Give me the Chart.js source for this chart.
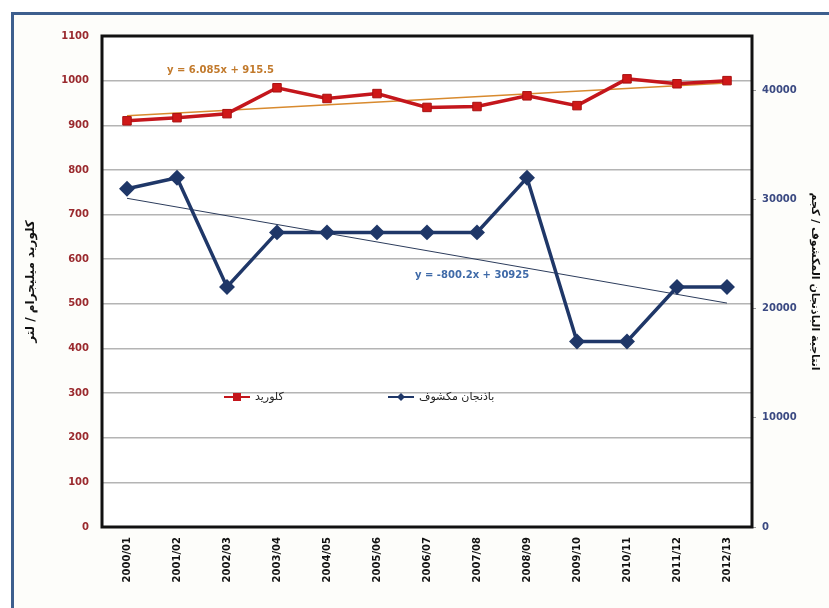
<!DOCTYPE html>
<html>
<head>
<meta charset="utf-8">
<script src="https://cdn.jsdelivr.net/npm/chart.js@4"></script>
<style>
  html, body { margin: 0; padding: 0; background: #ffffff; }
  #wrap { position: relative; width: 829px; height: 608px; overflow: hidden; }
  #frame {
    position: absolute; left: 11px; top: 12px; width: 830px; height: 620px;
    border-left: 3px solid #3d5f8e; border-top: 3px solid #3d5f8e;
    background: #fdfdfa; box-sizing: border-box;
  }
  canvas { position: absolute; left: 0; top: 0; }
</style>
</head>
<body>
<div id="wrap">
  <div id="frame"></div>
  <canvas id="chart" width="829" height="608"></canvas>
</div>
<script>
// seasons
const seasons = [
  "2000/01", "2001/02", "2002/03", "2003/04", "2004/05", "2005/06", "2006/07",
  "2007/08", "2008/09", "2009/10", "2010/11", "2011/12", "2012/13"
];

// chloride, mg/L (left axis)
const chloride = [910, 917, 926, 984, 960, 971, 940, 942, 966, 944, 1004, 993, 1000];

// open-field eggplant yield, kg (right axis)
const eggplant = [31000, 32000, 22000, 27000, 27000, 27000, 27000, 27000, 32000, 17000, 17000, 22000, 22000];

// trendline end values (first and last season)
const chlorideTrend = [921.6, null, null, null, null, null, null, null, null, null, null, null, 994.6];
const eggplantTrend = [30125, null, null, null, null, null, null, null, null, null, null, null, 20522];

const leftTicks = [0, 100, 200, 300, 400, 500, 600, 700, 800, 900, 1000, 1100];
const rightTicks = [0, 10000, 20000, 30000, 40000];

const chlorideLabel = "كلوريد";
const eggplantLabel = "باذنجان مكشوف";
const leftTitle = "كلوريد ميليجرام / لتر";
const rightTitle = "انتاجية الباذنجان المكشوف / كجم";
const chlorideEq = "y = 6.085x + 915.5";
const eggplantEq = "y = -800.2x + 30925";

const RED = "#c4161c";
const NAVY = "#1f3768";

// legend and trend equations drawn inside the plot, like the Excel original
const overlayPlugin = {
  id: "overlay",
  beforeDraw(chart) {
    const a = chart.chartArea;
    chart.ctx.fillStyle = "#ffffff";
    chart.ctx.fillRect(a.left, a.top, a.right - a.left, a.bottom - a.top);
  },
  afterDraw(chart) {
    const ctx = chart.ctx;
    const a = chart.chartArea;
    ctx.save();
    // plot border
    ctx.strokeStyle = "#111";
    ctx.lineWidth = 3;
    ctx.strokeRect(a.left, a.top, a.right - a.left, a.bottom - a.top);

    // equations
    ctx.font = "bold 10px 'DejaVu Sans', sans-serif";
    ctx.textBaseline = "middle";
    ctx.fillStyle = "#c27a2c";
    ctx.fillText(chlorideEq, 167, 70);
    ctx.fillStyle = "#3f6aa8";
    ctx.fillText(eggplantEq, 415, 275);

    // legend
    ctx.font = "11px 'DejaVu Sans', sans-serif";
    ctx.lineWidth = 2;
    // chloride entry
    ctx.strokeStyle = RED;
    ctx.beginPath(); ctx.moveTo(224, 397); ctx.lineTo(250, 397); ctx.stroke();
    ctx.fillStyle = RED;
    ctx.fillRect(233, 393, 8, 8);
    ctx.fillStyle = "#222";
    ctx.textAlign = "left";
    ctx.fillText(chlorideLabel, 255, 397);
    // eggplant entry
    ctx.strokeStyle = NAVY;
    ctx.beginPath(); ctx.moveTo(388, 397); ctx.lineTo(414, 397); ctx.stroke();
    ctx.fillStyle = NAVY;
    ctx.beginPath();
    ctx.moveTo(401, 393); ctx.lineTo(405, 397); ctx.lineTo(401, 401); ctx.lineTo(397, 397);
    ctx.closePath(); ctx.fill();
    ctx.fillStyle = "#222";
    ctx.fillText(eggplantLabel, 419, 397);
    ctx.restore();
  }
};

new Chart(document.getElementById("chart"), {
  type: "line",
  data: {
    labels: seasons,
    datasets: [
      {
        label: chlorideLabel,
        data: chloride,
        yAxisID: "y",
        borderColor: RED,
        backgroundColor: "#d01818",
        borderWidth: 3.5,
        pointStyle: "rect",
        pointRadius: 6,
        pointBorderColor: "#a81010",
        pointBorderWidth: 1,
        order: 1
      },
      {
        label: eggplantLabel,
        data: eggplant,
        yAxisID: "y1",
        borderColor: NAVY,
        backgroundColor: NAVY,
        borderWidth: 3.5,
        pointStyle: "rectRot",
        pointRadius: 5.5,
        pointBorderColor: NAVY,
        order: 2
      },
      {
        label: "trend1",
        data: chlorideTrend,
        yAxisID: "y",
        borderColor: "#d88a2e",
        borderWidth: 1.5,
        pointRadius: 0,
        spanGaps: true,
        order: 3
      },
      {
        label: "trend2",
        data: eggplantTrend,
        yAxisID: "y1",
        borderColor: "#2c3c5c",
        borderWidth: 1,
        pointRadius: 0,
        spanGaps: true,
        order: 4
      }
    ]
  },
  options: {
    responsive: false,
    animation: false,
    layout: { padding: { left: 24, right: 8, top: 36, bottom: 0 } },
    plugins: {
      legend: { display: false },
      tooltip: { enabled: false }
    },
    scales: {
      x: {
        offset: true,
        grid: { display: false, drawTicks: false },
        border: { display: false },
        ticks: {
          minRotation: 90,
          maxRotation: 90,
          padding: 10,
          color: "#111",
          font: { family: "'DejaVu Sans', sans-serif", size: 10, weight: "bold" }
        },
        afterFit(axis) { axis.height = 81; }
      },
      y: {
        position: "left",
        min: 0,
        max: 1100,
        afterBuildTicks(axis) { axis.ticks = leftTicks.map(v => ({ value: v })); },
        grid: { color: "#b4b4b4", lineWidth: 1.5, drawTicks: false },
        border: { display: false },
        ticks: {
          padding: 13,
          color: "#9a2a2e",
          callback: v => String(v),
          font: { family: "'DejaVu Sans', sans-serif", size: 10, weight: "bold" }
        },
        title: {
          display: true,
          text: leftTitle,
          color: "#111",
          padding: { top: 0, bottom: 0 },
          font: { family: "'DejaVu Sans', sans-serif", size: 12, weight: "bold" }
        },
        afterFit(axis) { axis.width = 78; }
      },
      y1: {
        position: "right",
        min: 0,
        max: 45000,
        afterBuildTicks(axis) { axis.ticks = rightTicks.map(v => ({ value: v })); },
        grid: { drawOnChartArea: false, color: "#999", tickLength: 4 },
        border: { display: false },
        ticks: {
          padding: 6,
          color: "#3b4a82",
          callback: v => String(v),
          font: { family: "'DejaVu Sans', sans-serif", size: 10, weight: "bold" }
        },
        title: {
          display: true,
          text: rightTitle,
          color: "#111",
          padding: { top: 0, bottom: 0 },
          font: { family: "'DejaVu Sans', sans-serif", size: 11, weight: "bold" }
        },
        afterFit(axis) { axis.width = 69; }
      }
    }
  },
  plugins: [overlayPlugin]
});
</script>
</body>
</html>
